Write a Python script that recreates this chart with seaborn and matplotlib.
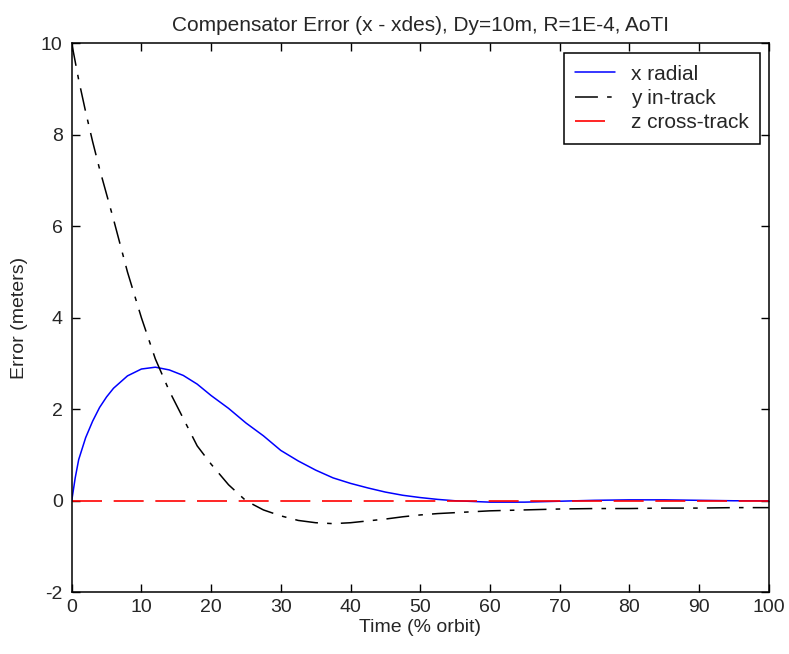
import matplotlib.pyplot as plt
import pandas as pd
import seaborn as sns

# Valori
time = [0, 0.5, 1, 2, 3, 4, 5, 6, 8, 10, 12, 14, 16, 18, 20, 22.5, 25, 27.5, 30, 32.5,
        35, 37.5, 40, 42.5, 45, 47.5, 50, 52.5, 55, 60, 65, 70, 75, 80, 85, 90, 95, 100]
x_radial = [0, 0.5, 0.9, 1.38, 1.74, 2.04, 2.27, 2.46, 2.73, 2.88, 2.92, 2.86, 2.74,
            2.55, 2.30, 2.02, 1.70, 1.42, 1.10, 0.87, 0.67, 0.50, 0.38, 0.28, 0.19,
            0.12, 0.07, 0.03, 0.0, -0.03, -0.03, -0.01, 0.01, 0.02, 0.02, 0.01, 0.0, 0.0]
y_intrack = [10, 9.6, 9.2, 8.5, 7.85, 7.25, 6.7, 6.15, 5.0, 4.0, 3.1, 2.4, 1.8, 1.2,
             0.8, 0.35, 0.0, -0.2, -0.33, -0.43, -0.48, -0.5, -0.48, -0.44, -0.40,
             -0.35, -0.31, -0.28, -0.26, -0.22, -0.2, -0.18, -0.17, -0.17, -0.16,
             -0.16, -0.15, -0.15]
z_crosstrack = [0.0] * len(time)

df = pd.DataFrame({'time': time, 'x': x_radial, 'y': y_intrack, 'z': z_crosstrack})

sns.set_style("ticks")
plt.rcParams['font.family'] = ['Liberation Sans', 'DejaVu Sans']
plt.rcParams['axes.unicode_minus'] = False
plt.rcParams['xtick.direction'] = 'in'
plt.rcParams['ytick.direction'] = 'in'

fig = plt.figure(figsize=(7.89, 6.54), dpi=100)
ax = fig.add_axes([0.0909, 0.0944, 0.8834, 0.8394])

sns.lineplot(data=df, x='time', y='x', ax=ax, color='#0000ff', lw=1.1, label='x radial')
sns.lineplot(data=df, x='time', y='y', ax=ax, color='black', lw=1.1,
             linestyle=(0, (15, 6, 3, 6)), label='y in-track')
sns.lineplot(data=df, x='time', y='z', ax=ax, color='#ff0000', lw=1.2,
             linestyle=(0, (18, 7)), label='z cross-track')

ax.set_xlim(0, 100)
ax.set_ylim(-2, 10)
ax.set_xticks(range(0, 101, 10))
ax.set_yticks(range(-2, 11, 2))
ax.tick_params(top=True, right=True, labelsize=14, length=5.5, width=1, color='black')
ax.tick_params(axis='x', pad=5)
ax.tick_params(axis='y', pad=6.5)
for s in ax.spines.values():
    s.set_color('black')
    s.set_linewidth(1.1)

ax.set_title('Compensator Error (x - xdes), Dy=10m, R=1E-4, AoTI', fontsize=15, pad=8.5)
ax.set_xlabel('Time (% orbit)', fontsize=14, labelpad=2)
ax.set_ylabel('Error (meters)', fontsize=14, labelpad=9)

leg = ax.legend(loc='upper right', bbox_to_anchor=(0.9875, 0.982), borderaxespad=0,
                fontsize=15, frameon=True, fancybox=False, edgecolor='black',
                handlelength=1.9, handletextpad=0.75, labelspacing=0.25, borderpad=0.55)
leg.get_frame().set_linewidth(1.1)
leg.get_frame().set_alpha(1)

fig.savefig('out.png', dpi=100)
